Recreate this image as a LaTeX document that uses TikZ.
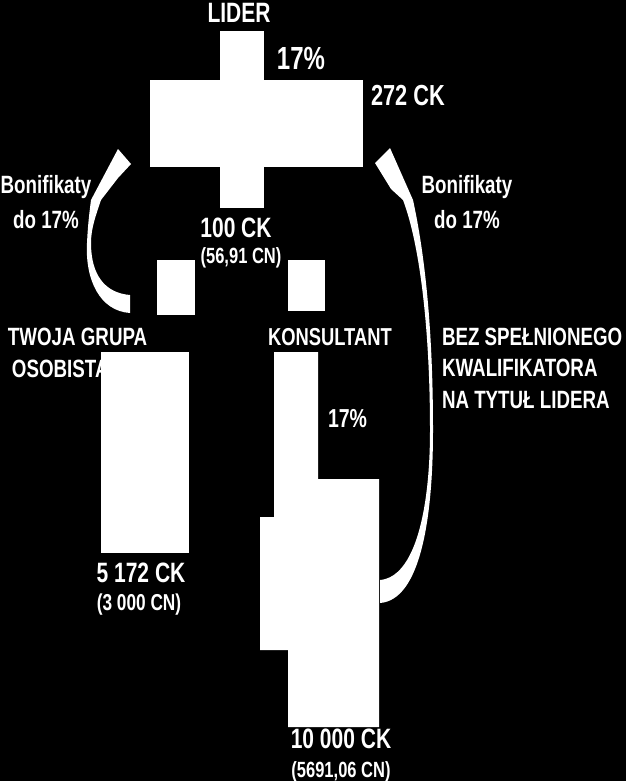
\documentclass[tikz,border=0pt]{standalone}
\usepackage{fontspec}
\setmainfont{Liberation Sans}[FakeStretch=0.75]
\newcommand\lblfont[2]{\fontsize{#1}{#2}\selectfont\bfseries}

\begin{document}
\begin{tikzpicture}[
x=1pt, y=-1pt,
blk/.style={fill=white, inner sep=0pt, outer sep=0pt, anchor=north west},
lbl/.style={text=white, inner sep=0pt, outer sep=0pt}
]

\fill[black] (0,0) rectangle (626,781);
\useasboundingbox (0,0) rectangle (626,781);

% leader
\node[blk, minimum width=44pt, minimum height=177pt] (lidv) at (220,31) {};
\node[blk, minimum width=213pt, minimum height=87pt] (lidh) at (150,80) {};
\node[lbl, font=\lblfont{28}{30}, anchor=base] (lider) at (239,23) {LIDER};
\node[lbl, font=\lblfont{32}{34}, anchor=base] (pctlid) at (301,70) {17\%};
\node[lbl, font=\lblfont{29}{31}, anchor=base west] (cklid) at (371,106) {272 CK};

% base anchor of a multi-line label = its last line
\node[lbl, font=\lblfont{25}{35}, align=center, anchor=base] (bonl) at (46,228) {Bonifikaty\\do 17\%};
\node[lbl, font=\lblfont{25}{35}, align=center, anchor=base] (bonr) at (467,228) {Bonifikaty\\do 17\%};

\node[lbl, font=\lblfont{28}{30}, anchor=base] (ckgrp1) at (236,237) {100 CK};
\node[lbl, font=\lblfont{22}{24}, anchor=base] (cngrp1) at (241,263) {(56,91 CN)};

% group and consultant
\node[blk, minimum width=38pt, minimum height=55pt] (grpicon) at (157,260) {};
\node[blk, minimum width=37pt, minimum height=51pt] (konsicon) at (288,260) {};

\node[lbl, font=\lblfont{25}{32}, align=left, anchor=base west] (grp) at (8,377) {TWOJA GRUPA\\\hspace{4pt}OSOBISTA};
\node[lbl, font=\lblfont{24.5}{30}, anchor=base west] (kons) at (268,345) {KONSULTANT};
\node[lbl, font=\lblfont{25}{31.5}, align=left, anchor=base west] (nokwal) at (442,408) {BEZ SPEŁNIONEGO\\KWALIFIKATORA\\NA TYTUŁ LIDERA};

\node[blk, minimum width=88pt, minimum height=201pt] (grpbox) at (101,352) {};
\fill[white] (274,352) -- (318,352) -- (318,479) -- (379,479) -- (379,727)
  -- (288,727) -- (288,650) -- (260,650) -- (260,517) -- (274,517) -- cycle;

\node[lbl, font=\lblfont{26}{28}, anchor=base west] (pctkons) at (328,427) {17\%};
\node[lbl, font=\lblfont{28}{30}, anchor=base] (ckgrp) at (141,582) {5 172 CK};
\node[lbl, font=\lblfont{23}{25}, anchor=base] (cngrp) at (139,610) {(3 000 CN)};
\node[lbl, font=\lblfont{28}{30}, anchor=base] (ckkons) at (341,748) {10 000 CK};
\node[lbl, font=\lblfont{22}{24}, anchor=base] (cnkons) at (341,777) {(5691,06 CN)};

% curved arrows up to the leader
\fill[white] (130,313) .. controls (100,311) and (85,280) .. (87,243)
  .. controls (88,222) and (90,208) .. (91,200) -- (118,149) -- (131,164) -- (118,178)
  -- (101,200) .. controls (96,215) and (91,228) .. (91,243)
  .. controls (91,275) and (105,293) .. (130,295) -- cycle;
\fill[white] (380,603) .. controls (420,600) and (433,520) .. (433,430)
  .. controls (433,330) and (425,255) .. (413,200) -- (390,148) -- (375,163) -- (391,189)
  -- (403,200) .. controls (420,245) and (430,330) .. (430,430)
  .. controls (430,510) and (415,577) .. (380,580) -- cycle;

\end{tikzpicture}
\end{document}
